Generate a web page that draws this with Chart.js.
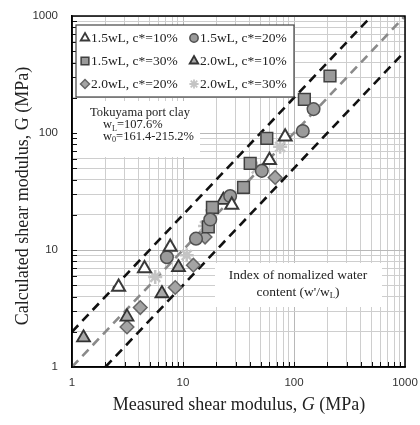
<!DOCTYPE html>
<html>
<head>
<meta charset="utf-8">
<script src="https://cdn.jsdelivr.net/npm/chart.js@4/dist/chart.umd.min.js"></script>
<style>body{margin:0;background:#fff}canvas{display:block}</style>
</head>
<body>
<canvas id="chart" width="420" height="425"></canvas>
<script>
// measured (x) vs calculated (y) shear modulus, MPa
const labels = ['1.5wL, c*=10%', '1.5wL, c*=20%', '1.5wL, c*=30%', '2.0wL, c*=10%', '2.0wL, c*=20%', '2.0wL, c*=30%'];
const s15c10x = [2.63, 4.50, 7.67, 27.5, 60.1, 83.2];
const s15c10y = [4.83, 6.95, 10.6, 24.2, 58.6, 92.8];
const s15c20x = [7.16, 13.1, 17.6, 26.6, 51.3, 120, 150];
const s15c20y = [8.68, 12.5, 18.2, 28.9, 47.5, 104, 160];
const s15c30x = [16.9, 18.4, 35.1, 40.3, 56.9, 124, 211];
const s15c30y = [15.8, 23.1, 34.3, 55.0, 89.9, 194, 307];
const s20c10x = [1.27, 3.13, 6.46, 9.11, 23.1];
const s20c10y = [1.78, 2.68, 4.25, 7.09, 26.7];
const s20c20x = [3.13, 4.12, 8.51, 12.4, 15.8, 67.6];
const s20c20y = [2.20, 3.22, 4.78, 7.41, 12.9, 41.7];
const s20c30x = [5.62, 10.8, 15.8, 18.3, 46.2, 75.0];
const s20c30y = [5.89, 9.03, 16.0, 21.9, 49.8, 76.2];
// guide lines: G_calc = 2 G, G, G / 2
const upperX = [1, 500], upperY = [2, 1000];
const unityX = [1, 1000], unityY = [1, 1000];
const lowerX = [2, 1000], lowerY = [1, 500];
const gridTicks = [1,2,3,4,5,6,7,8,9,10,20,30,40,50,60,70,80,90,100,200,300,400,500,600,700,800,900,1000];
const tickLabels = [1, 10, 100, 1000];

const pts = (xs, ys) => xs.map((x, i) => ({x, y: ys[i]}));
const styles = [
  {pointStyle:'triangle', radius:7.5, bg:'#ffffff', bc:'#3a3a3a', bw:2},
  {pointStyle:'circle', radius:6.3, bg:'#9a9a9a', bc:'#505050', bw:1.5},
  {pointStyle:'rect', radius:8.3, bg:'#9a9a9a', bc:'#404040', bw:1.5},
  {pointStyle:'triangle', radius:7.5, bg:'#a8a8a8', bc:'#333333', bw:1.8},
  {pointStyle:'rectRot', radius:6.8, bg:'#a4a4a4', bc:'#666666', bw:1.5},
  {pointStyle:'star', radius:7, bg:'#c8c8c8', bc:'#c4c4c4', bw:2.5}
];
const series = [pts(s15c10x, s15c10y), pts(s15c20x, s15c20y), pts(s15c30x, s15c30y),
                pts(s20c10x, s20c10y), pts(s20c20x, s20c20y), pts(s20c30x, s20c30y)];

const datasets = series.map((d, i) => ({
  label: labels[i], data: d, showLine: false,
  pointStyle: styles[i].pointStyle, pointRadius: styles[i].radius,
  pointBackgroundColor: styles[i].bg, pointBorderColor: styles[i].bc, pointBorderWidth: styles[i].bw
}));
const guide = (xs, ys, color) => ({
  label: '', data: pts(xs, ys), showLine: true, pointRadius: 0,
  borderColor: color, borderWidth: 2.6, borderDash: [9, 6], fill: false
});
datasets.push(guide(upperX, upperY, '#111'), guide(unityX, unityY, '#8a8a8a'), guide(lowerX, lowerY, '#111'));

function isMajor(v) { const l = Math.log10(v); return Math.abs(l - Math.round(l)) < 1e-9; }
const gridColor = c => (c.tick && isMajor(c.tick.value)) ? '#b8b8b8' : '#cecece';

// text with subscripts: parts = [[text, 'sub'|'it'|undefined]]
function rich(ctx, parts, x, y, size, align) {
  const font = (p) => (p[1] === 'it' ? 'italic ' : '') + (p[1] === 'sub' ? size * 0.65 : size) + 'px "Liberation Serif"';
  let w = 0;
  parts.forEach(p => { ctx.font = font(p); w += ctx.measureText(p[0]).width; });
  let cx = align === 'center' ? x - w / 2 : x;
  ctx.textAlign = 'left'; ctx.textBaseline = 'middle';
  parts.forEach(p => {
    ctx.font = font(p);
    ctx.fillText(p[0], cx, p[1] === 'sub' ? y + size * 0.3 : y);
    cx += ctx.measureText(p[0]).width;
  });
}

const deco = {
  id: 'deco',
  beforeDatasetsDraw(chart) {
    const c = chart.ctx;
    c.save();
    c.fillStyle = '#fff';
    c.fillRect(74, 101, 126, 56);
    c.fillRect(215, 263, 167, 44);
    c.fillStyle = '#222';
    rich(c, [['Tokuyama port clay']], 140, 113, 12.5, 'center');
    rich(c, [['w'], ['L', 'sub'], ['=107.6%']], 103, 125, 12.5);
    rich(c, [['w'], ['0', 'sub'], ['=161.4-215.2%']], 103, 136.5, 12.5);
    rich(c, [['Index of nomalized water']], 298, 275, 13.5, 'center');
    rich(c, [["content (w'/w"], ['L', 'sub'], [')']], 298, 292, 13.5, 'center');
    c.restore();
  },
  afterDraw(chart) {
    const c = chart.ctx, a = chart.chartArea, xs = chart.scales.x, ys = chart.scales.y;
    c.save();
    // inner ticks
    c.strokeStyle = '#111'; c.lineWidth = 1;
    gridTicks.forEach(v => {
      if (v <= 1 || v >= 1000) return;
      const py = Math.round(ys.getPixelForValue(v)) + 0.5;
      c.beginPath(); c.moveTo(a.left, py); c.lineTo(a.left + 5, py); c.stroke();
      const px = Math.round(xs.getPixelForValue(v)) + 0.5;
      c.beginPath(); c.moveTo(px, a.bottom); c.lineTo(px, a.bottom - 5); c.stroke();
    });
    // frame
    c.strokeStyle = '#000'; c.lineWidth = 1.5;
    c.strokeRect(a.left, a.top, a.right - a.left, a.bottom - a.top);
    // legend
    c.fillStyle = '#fff'; c.strokeStyle = '#444'; c.lineWidth = 1.2;
    c.fillRect(76, 25, 218, 72); c.strokeRect(76, 25, 218, 72);
    labels.forEach((lab, i) => {
      const col = i % 2, row = Math.floor(i / 2);
      const mx = col ? 194 : 85, my = 38 + row * 23;
      const s = styles[i];
      c.fillStyle = s.bg; c.strokeStyle = s.bc; c.lineWidth = Math.min(s.bw, 1.8);
      Chart.helpers.drawPoint(c, {pointStyle: s.pointStyle, radius: s.radius * 0.66, rotation: 0, borderWidth: s.bw}, mx, my);
      c.fillStyle = '#222';
      rich(c, [[lab]], mx + 6, my, 13.5);
    });
    // axis titles
    c.fillStyle = '#222';
    rich(c, [['Measured shear modulus, '], ['G', 'it'], [' (MPa)']], 239, 405, 18, 'center');
    c.translate(23, 196); c.rotate(-Math.PI / 2);
    rich(c, [['Calculated shear modulus, G (MPa)']], 0, 0, 18, 'center');
    c.restore();
  }
};

const tickOpts = {
  autoSkip: false, maxRotation: 0, color: '#333',
  font: {family: 'Liberation Sans', size: 11.5},
  callback: v => tickLabels.includes(v) ? String(v) : ''
};

new Chart(document.getElementById('chart'), {
  type: 'scatter',
  data: {datasets},
  options: {
    responsive: false, animation: false,
    layout: {padding: {left: 0, right: 15, top: 16, bottom: 0}},
    plugins: {legend: {display: false}, tooltip: {enabled: false}},
    scales: {
      x: {
        type: 'logarithmic', min: 1, max: 1000,
        afterBuildTicks: s => { s.ticks = gridTicks.map(v => ({value: v})); },
        afterFit: s => { s.height = 58; s.paddingLeft = 0; s.paddingRight = 0; },
        grid: {color: gridColor, lineWidth: 1, drawTicks: false},
        border: {color: '#000', width: 1.5},
        ticks: Object.assign({padding: 9}, tickOpts)
      },
      y: {
        type: 'logarithmic', min: 1, max: 1000,
        afterBuildTicks: s => { s.ticks = gridTicks.map(v => ({value: v})); },
        afterFit: s => { s.width = 72; s.paddingTop = 0; s.paddingBottom = 0; },
        grid: {color: gridColor, lineWidth: 1, drawTicks: false},
        border: {color: '#000', width: 1.5},
        ticks: Object.assign({padding: 14}, tickOpts)
      }
    }
  },
  plugins: [deco]
});
</script>
</body>
</html>
